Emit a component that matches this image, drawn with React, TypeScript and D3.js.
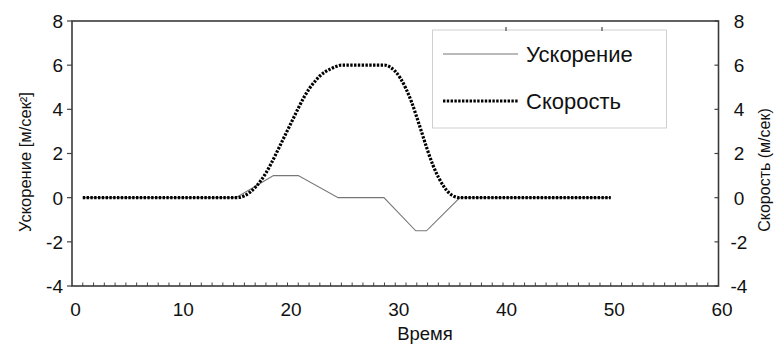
import React from "react";
import * as d3 from "d3";

const xTicks = [0, 10, 20, 30, 40, 50, 60];
const yTicks = [-4, -2, 0, 2, 4, 6, 8];

// Acceleration (m/s^2) breakpoints
const accTime = [1, 15.2, 18.7, 21, 24.7, 28.95, 31.9, 32.9, 36, 50];
const accValue = [0, 0, 1, 1, 0, 0, -1.5, -1.5, 0, 0];

// Speed (m/s) samples
const speedTime = [1, 15, 15.5, 16, 16.5, 17, 17.5, 18, 18.5, 19, 19.5, 20, 20.5, 21, 21.5, 22, 22.5, 23, 23.5, 24, 24.5, 25, 28.5, 29, 29.5, 30, 30.5, 31, 31.5, 32, 32.5, 33, 33.5, 34, 34.5, 35, 35.5, 36, 50];
const speedValue = [0, 0, 0.01, 0.09, 0.24, 0.46, 0.76, 1.12, 1.56, 2.05, 2.55, 3.05, 3.55, 4.05, 4.52, 4.92, 5.24, 5.51, 5.7, 5.83, 5.94, 6.0, 6.0, 6.0, 5.92, 5.72, 5.39, 4.93, 4.35, 3.64, 2.89, 2.14, 1.47, 0.93, 0.51, 0.21, 0.05, 0, 0];

const seriesNames = ["Ускорение", "Скорость"];

const W = 780, H = 345;
const L = 72, R = 718.5, T = 21, B = 286;
const FONT = "'Liberation Sans', Arial, Helvetica, sans-serif";

export default function App() {
  const x = d3.scaleLinear().domain([0, 60]).range([L, R]);
  const y = d3.scaleLinear().domain([-4, 8]).range([B, T]);
  const y2 = d3.scaleLinear().domain([-4, 8]).range([B, T]);

  const accData = accTime.map((t, i) => [t, accValue[i]] as [number, number]);
  const spdData = speedTime.map((t, i) => [t, speedValue[i]] as [number, number]);

  const accLine = d3.line<[number, number]>().x(d => x(d[0])).y(d => y(d[1]));
  const spdLine = d3.line<[number, number]>().x(d => x(d[0])).y(d => y2(d[1])).curve(d3.curveMonotoneX);

  const minor = d3.range(1, 60);

  return (
    <svg width={W} height={H} style={{ position: "absolute", left: 0, top: 0 }} fontFamily={FONT}>
      <rect x={0} y={0} width={W} height={H} fill="#fff" />
      {minor.map(v => (
        <line key={"m" + v} x1={x(v)} x2={x(v)} y1={B} y2={B - 3.5} stroke="#444" strokeWidth={1} />
      ))}
      {yTicks.map(v => (
        <line key={"lt" + v} x1={L - 5} x2={L} y1={y(v)} y2={y(v)} stroke="#444" strokeWidth={1.2} />
      ))}
      {yTicks.map(v => (
        <line key={"rt" + v} x1={R - 4} x2={R} y1={y2(v)} y2={y2(v)} stroke="#444" strokeWidth={1.2} />
      ))}
      <rect x={L} y={T} width={R - L} height={B - T} fill="none" stroke="#3a3a3a" strokeWidth={1.6} />

      {yTicks.map(v => (
        <text key={"ll" + v} x={63} y={y(v)} dy="0.36em" textAnchor="end" fontSize={19} fill="#111">{v}</text>
      ))}
      {yTicks.map(v => (
        <text key={"rl" + v} x={739} y={y2(v)} dy="0.36em" textAnchor="middle" fontSize={19} fill="#111">{v}</text>
      ))}
      {xTicks.map(v => (
        <text key={"xl" + v} x={x(v) + 3.5} y={309} dy="0.36em" textAnchor="middle" fontSize={19} fill="#111">{v}</text>
      ))}

      <text x={425} y={333} dy="0.36em" textAnchor="middle" fontSize={18.5} fill="#111">Время</text>
      <text transform={`translate(25,${162}) rotate(-90)`} dy="0.36em" textAnchor="middle" fontSize={16.5} fill="#111">Ускорение [м/сек²]</text>
      <text transform={`translate(764,${170}) rotate(-90)`} dy="0.36em" textAnchor="middle" fontSize={16} fill="#111">Скорость (м/сек)</text>

      <rect x={432.5} y={30} width={234} height={98} fill="#fff" stroke="#cfcfcf" strokeWidth={1} />
      <line x1={506} x2={506} y1={27} y2={31} stroke="#555" strokeWidth={1.3} />
      <line x1={602} x2={602} y1={27} y2={31} stroke="#555" strokeWidth={1.3} />
      <line x1={443} x2={518} y1={54} y2={54} stroke="#777" strokeWidth={1.1} />
      <text x={526} y={54} dy="0.36em" fontSize={22} fill="#111">{seriesNames[0]}</text>
      <line x1={443} x2={518} y1={101} y2={101} stroke="#000" strokeWidth={3.2} strokeDasharray="2.4 1.4" />
      <text x={526} y={101} dy="0.36em" fontSize={22} fill="#111">{seriesNames[1]}</text>

      <path d={accLine(accData) || ""} fill="none" stroke="#777" strokeWidth={1.1} />
      <path d={spdLine(spdData) || ""} fill="none" stroke="#000" strokeWidth={3.2} strokeDasharray="2.4 1.4" />
    </svg>
  );
}
